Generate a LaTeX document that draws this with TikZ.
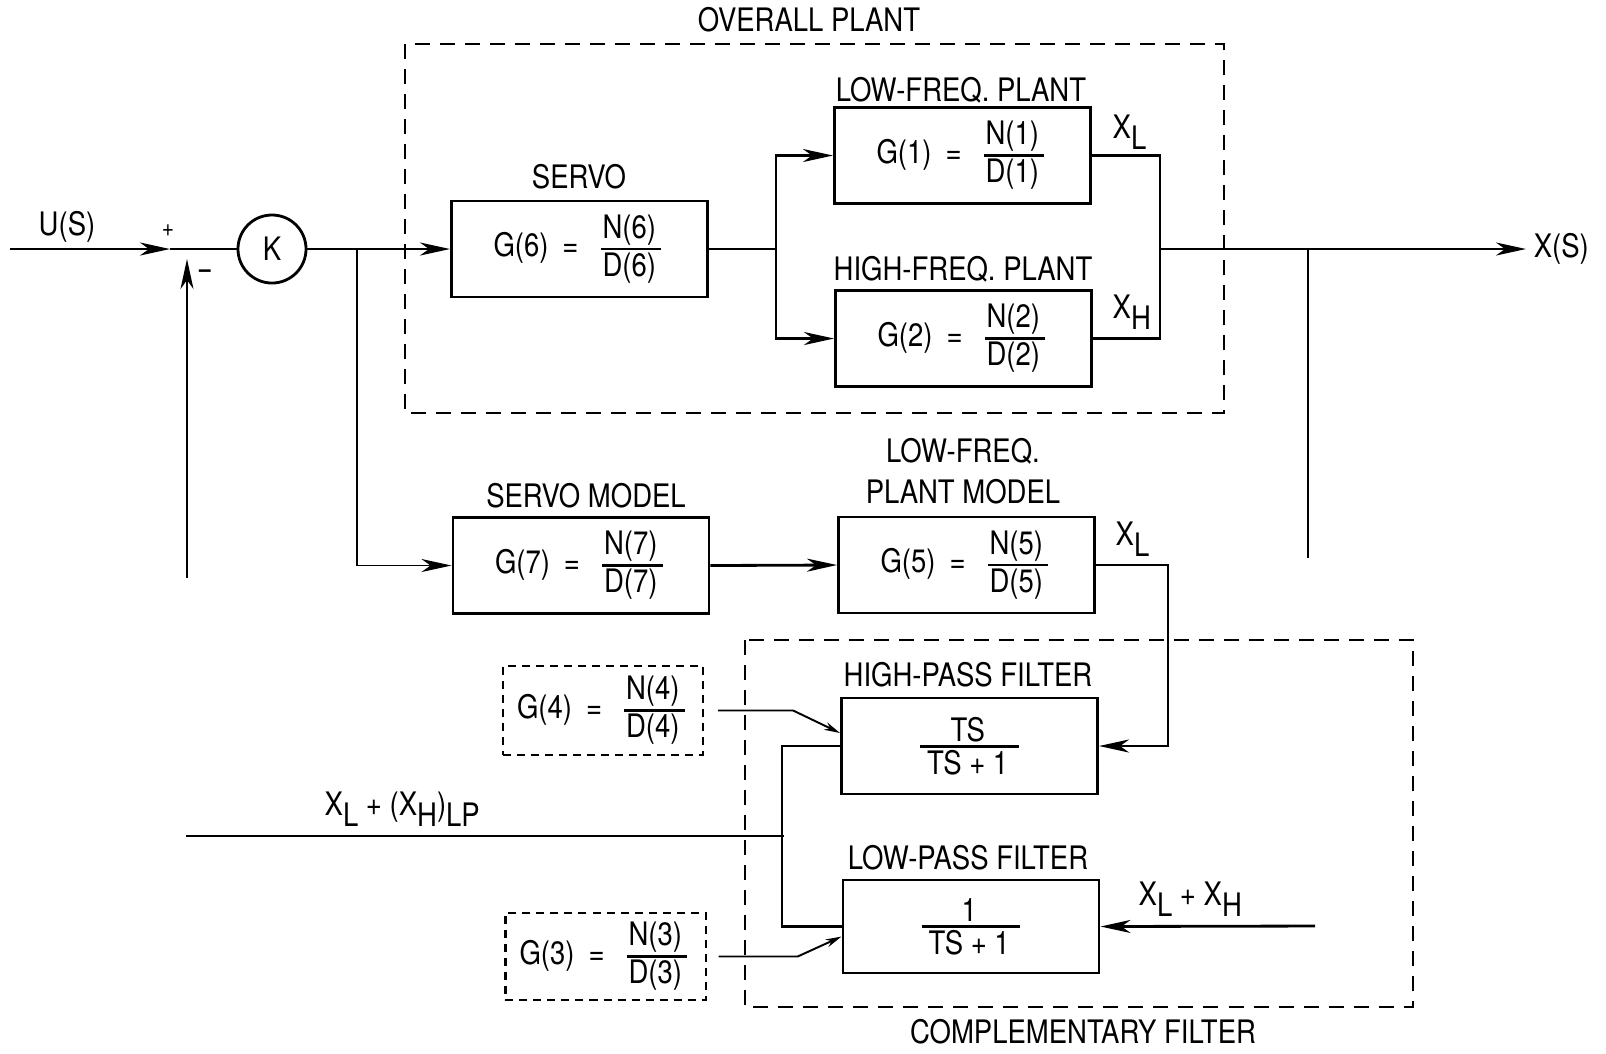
\documentclass[tikz,border=0pt]{standalone}
\usepackage{amsmath}
\usepackage{fontspec}
\setmainfont{TeX Gyre Heros}[FakeStretch=0.85]
\usetikzlibrary{arrows.meta,positioning}
\newcommand{\lowsub}[1]{\raisebox{-0.7ex}{#1}}
\newcommand{\ratio}[2]{$\genfrac{}{}{0.7pt}{1}{\hbox{\kern0.5pt#1\kern1.5pt}}{\hbox{\kern0.5pt#2\kern1.5pt}}$}
\newcommand{\gfun}[1]{G(#1)\hspace{0.14cm}=\hspace{0.18cm}\ratio{N(#1)}{D(#1)}}

\begin{document}
\begin{tikzpicture}[
  x=0.01cm, y=-0.01cm,
  >={Stealth[length=3mm, width=1.3mm, inset=0.9mm]},
  every node/.style={font=\fontsize{9.2pt}{11.6pt}\selectfont, inner sep=0pt},
  blk/.style={draw, line width=0.8pt, minimum width=2.56cm, minimum height=0.96cm},
  gbox/.style={draw, line width=0.6pt, dash pattern=on 0.8mm off 0.6mm, minimum width=2cm, minimum height=0.89cm},
  groupframe/.style={line width=0.7pt, dash pattern=on 1.5mm off 1mm},
  sig/.style={line width=0.8pt},
  tapline/.style={line width=0.55pt},
  smallarr/.style={line width=0.55pt, -{Stealth[length=1.6mm, width=0.8mm]}},
  sign/.style={font=\fontsize{7pt}{8pt}\selectfont}
]
\useasboundingbox (0,0) rectangle (1606,1053);

% groups
\draw[groupframe] (405,44) rectangle (1224,413);
\draw[groupframe] (745,640) rectangle (1413,1007);
\node at (809,20) {OVERALL PLANT};
\node at (1083,1032) {COMPLEMENTARY FILTER};

% blocks
\node[circle, draw, line width=0.8pt, minimum size=0.68cm] (k) at (272,249) {K};
\node[blk] (servo) at (579.5,249) {\gfun{6}};
\node[blk] (lf) at (962.5,155.5) {\gfun{1}};
\node[blk] (hf) at (963.5,338.5) {\gfun{2}};
\node[blk] (sm) at (581,565.5) {\gfun{7}};
\node[blk] (lfm) at (966.5,565) {\gfun{5}};
\node[blk] (hp) at (969.5,746) {\ratio{TS}{\,TS + 1\,}};
\node[blk, minimum height=0.93cm] (lp) at (971,926.5) {\ratio{1}{\,TS + 1\,}};
\node[gbox] (g4) at (603,710.5) {\gfun{4}};
\node[gbox, minimum height=0.87cm] (g3) at (605.5,956.5) {\gfun{3}};

% titles
\node at (579,177) {SERVO};
\node at (961,90) {LOW-FREQ. PLANT};
\node at (963,269) {HIGH-FREQ. PLANT};
\node at (586,496) {SERVO MODEL};
\node[align=center] at (963,471.5) {LOW-FREQ.\\PLANT MODEL};
\node at (968,675) {HIGH-PASS FILTER};
\node at (968,858) {LOW-PASS FILTER};

% signals
\node at (67,227) {U(S)};
\node[sign] at (168,231) {+};
\node[sign] at (205,274) {\textbf{--}};
\node[anchor=west, inner sep=2pt] (xs) at (1526,249) {X(S)};
\node[anchor=base west] at (1112,138) {X\lowsub{L}};
\node[anchor=base west] at (1112,318) {X\lowsub{H}};
\node[anchor=base west] at (1115,545) {X\lowsub{L}};
\node[anchor=base west] at (1138,905) {X\lowsub{L} + X\lowsub{H}};
\node[anchor=base west] at (324,815) {X\lowsub{L} + (X\lowsub{H})\lowsub{LP}};

\coordinate (uin) at (10,249);
\coordinate (sumin) at (170,249);
\coordinate (sum) at (187,249);
\coordinate (fbend) at (187,578);
\coordinate (br) at (357,249);
\coordinate (sp) at (776,249);
\coordinate (jn) at (1160,249);
\coordinate (tap) at (1308,249);
\coordinate (tapend) at (1308,558);
\coordinate (cmb) at (784,836);
\coordinate (lpend) at (186,836);
\coordinate (xlxh) at (1315,926);

\draw[sig,->] (uin) -- (sumin);
\draw[sig] (sumin) -- (k.west);
\draw[tapline,->,shorten >=0.1cm] (fbend) -- (sum);
\draw[sig,->] (k.east) -- (servo.west);
\draw[tapline,->] (br) |- (sm.west);
\draw[sig] (servo.east) -- (sp);
\draw[sig,->] (sp) |- (lf.west);
\draw[sig,->] (sp) |- (hf.west);
\draw[sig] (lf.east) -| (jn) |- (hf.east);
\draw[sig,->] (jn) -- (xs.west);
\draw[tapline] (tap) -- (tapend);
\draw[sig,->] (sm.east) -- (lfm.west);
\draw[sig,->] (lfm.east) -- ++(72,0) |- (hp.east);
\draw[sig,->] (xlxh) -- (lp.east);
\draw[sig] (hp.west) -- ++(-58,0) |- (lp.west);
\draw[sig] (cmb) -- (lpend);
\draw[smallarr] ([xshift=0.14cm]g4.east) -- ++(75,0) -- ([yshift=0.13cm]hp.west);
\draw[smallarr] ([xshift=0.12cm]g3.east) -- ++(79,0) -- ([yshift=-0.1cm]lp.west);
\end{tikzpicture}
\end{document}
